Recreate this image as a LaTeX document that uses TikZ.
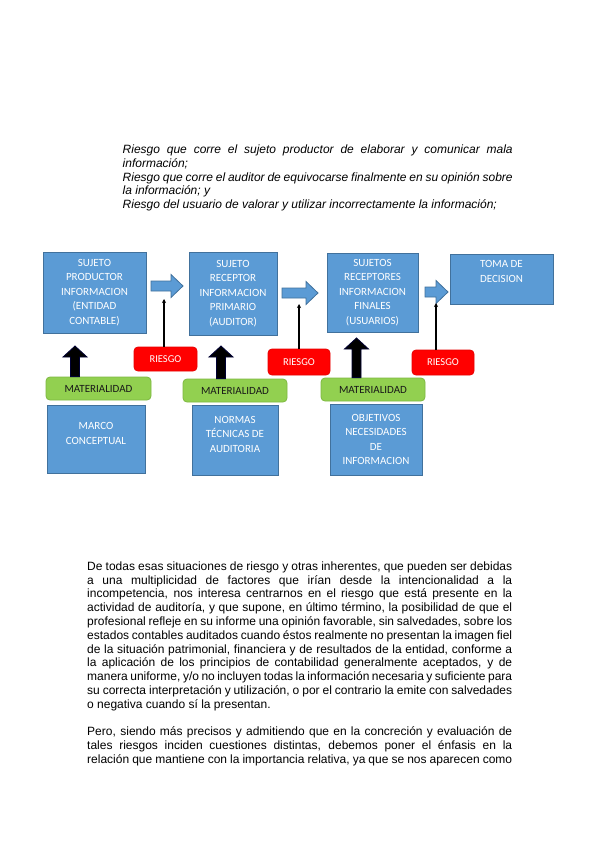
\documentclass[tikz,border=0pt]{standalone}
\usepackage{fontspec}
\setmainfont{Liberation Sans}
\newfontfamily\boxfont{Carlito}
\usepackage{xcolor}
\usepackage{tikz}
\usetikzlibrary{calc,arrows.meta}

\definecolor{boxblue}{HTML}{5B9BD5}
\definecolor{boxedge}{HTML}{41719C}
\definecolor{matgreen}{HTML}{92D050}
\definecolor{matedge}{HTML}{7DB840}
\definecolor{riskred}{HTML}{FF0000}
\definecolor{riskedge}{HTML}{E80000}
\setlength{\parindent}{0pt}

\newcommand{\rightblock}[2]{% blue arrow from #1 to #2
  \filldraw[blockright] ($(#1)+(0,-5)$) -- ($(#2)+(-12,-5)$) -- ($(#2)+(-12,-11.5)$) -- (#2)
    -- ($(#2)+(-12,11.5)$) -- ($(#2)+(-12,5)$) -- ($(#1)+(0,5)$) -- cycle;}
\newcommand{\upblock}[2]{% black arrow from #1 up to #2
  \filldraw[blockup] ($(#1)+(-4.5,0)$) -- ($(#2)+(-4.5,11)$) -- ($(#2)+(-12,11)$) -- (#2)
    -- ($(#2)+(12,11)$) -- ($(#2)+(4.5,11)$) -- ($(#1)+(4.5,0)$) -- cycle;}

\begin{document}
\begin{tikzpicture}[x=1pt,y=-1pt,
    bluebox/.style={draw=boxedge,fill=boxblue,line width=0.8pt,text=white,align=center,
      inner sep=0pt,font=\boxfont\fontsize{11}{14.5}\selectfont},
    matbox/.style={draw=matedge,fill=matgreen,rounded corners=4pt,line width=0.8pt,
      minimum width=104pt,minimum height=23pt,inner sep=0pt,text=black!90,
      font=\boxfont\fontsize{11}{13}\selectfont},
    riskbox/.style={draw=riskedge,fill=riskred,rounded corners=4pt,line width=0.8pt,
      minimum width=62pt,minimum height=25pt,inner sep=0pt,text=white,
      font=\boxfont\fontsize{10.5}{13}\selectfont},
    blockright/.style={draw=boxedge,fill=boxblue,line width=0.8pt},
    blockup/.style={draw=black!80!blue,fill=black,line width=0.8pt},
    riskline/.style={-{Stealth[length=4pt,width=4pt]},line width=1.3pt},
    bodytext/.style={anchor=north west,inner sep=0pt,align=justify}]
    \path[use as bounding box,fill=white] (0,0) rectangle (599,848);

    % text above the diagram
    \node[bodytext,text width=390pt,font=\itshape\fontsize{12}{13.9}\selectfont] (risks) at (122.5,144.4)
      {Riesgo que corre el sujeto productor de elaborar y comunicar mala\linebreak información;\par
       Riesgo que corre el auditor de equivocarse finalmente en su opinión sobre\linebreak la información; y\par
       Riesgo del usuario de valorar y utilizar incorrectamente la información;};

    % main chain
    \node[bluebox,minimum width=103pt,minimum height=81pt] (prod) at (94.5,292.5)
      {SUJETO\\PRODUCTOR\\INFORMACION\\(ENTIDAD\\CONTABLE)};
    \node[bluebox,minimum width=88pt,minimum height=83pt] (recep) at (233,293.5)
      {SUJETO\\RECEPTOR\\INFORMACION\\PRIMARIO\\(AUDITOR)};
    \node[bluebox,minimum width=91pt,minimum height=79pt] (final) at (372.5,292.5)
      {SUJETOS\\RECEPTORES\\INFORMACION\\FINALES\\(USUARIOS)};
    \node[bluebox,minimum width=103pt,minimum height=50pt,
      label={[anchor=north,align=center,text=white,font=\boxfont\fontsize{11}{14.5}\selectfont,
      inner sep=0pt,yshift=-7pt]north:TOMA DE\\DECISION}] (toma) at (501.5,279) {};

    % flow arrows
    \coordinate (a1s) at (151,286); \coordinate (a1e) at (183,286);
    \coordinate (a2s) at (282,293); \coordinate (a2e) at (318,293);
    \coordinate (a3s) at (425,292); \coordinate (a3e) at (448,292);
    \rightblock{a1s}{a1e}
    \rightblock{a2s}{a2e}
    \rightblock{a3s}{a3e}

    % risks
    \node[riskbox,minimum width=63pt,minimum height=24pt] (r1) at (165.5,359) {RIESGO};
    \node[riskbox,minimum height=26pt] (r2) at (299,362) {RIESGO};
    \node[riskbox] (r3) at (443,362.5) {RIESGO};
    \coordinate (k1) at (164,299);
    \coordinate (k2) at (299,304);
    \coordinate (k3) at (436,303);
    \draw[riskline] (r1.north -| k1) -- (k1);
    \draw[riskline] (r2.north -| k2) -- (k2);
    \draw[riskline] (r3.north -| k3) -- (k3);

    % materiality
    \node[matbox,minimum width=105pt] (mat1) at (98.5,388.5) {MATERIALIDAD};
    \node[matbox] (mat2) at (235,390.5) {MATERIALIDAD};
    \node[matbox] (mat3) at (373,389.5) {MATERIALIDAD};
    \coordinate (tA) at (75,346);
    \coordinate (tB) at (221,346);
    \coordinate (tC) at (356.5,338);
    \coordinate (bA) at (mat1.north -| tA);
    \coordinate (bB) at (mat2.north -| tB);
    \coordinate (bC) at (mat3.north -| tC);
    \upblock{bA}{tA}
    \upblock{bB}{tB}
    \upblock{bC}{tC}

    % frameworks
    \node[bluebox,minimum width=98pt,minimum height=68pt] (marco) at (96,439)
      {MARCO\\CONCEPTUAL\\[-3pt]};
    \node[bluebox,minimum width=86pt,minimum height=70pt] (normas) at (235,440)
      {NORMAS\\TÉCNICAS DE\\AUDITORIA\\[-3pt]};
    \node[bluebox,minimum width=92pt,minimum height=71pt] (objet) at (376,439.5)
      {OBJETIVOS\\NECESIDADES\\DE\\INFORMACION};

    % text below the diagram
    \node[bodytext,text width=425pt,font=\fontsize{12}{13.8}\selectfont] (body) at (87,561.4)
      {\hyphenpenalty=10000
       De todas esas situaciones de riesgo y otras inherentes, que pueden ser debidas\linebreak
       a una multiplicidad de factores que irían desde la intencionalidad a la\linebreak
       incompetencia, nos interesa centrarnos en el riesgo que está presente en la\linebreak
       actividad de auditoría, y que supone, en último término, la posibilidad de que el\linebreak
       profesional refleje en su informe una opinión favorable, sin salvedades, sobre los\linebreak
       estados contables auditados cuando éstos realmente no presentan la imagen fiel\linebreak
       de la situación patrimonial, financiera y de resultados de la entidad, conforme a\linebreak
       la aplicación de los principios de contabilidad generalmente aceptados, y de\linebreak
       manera uniforme, y/o no incluyen todas la información necesaria y suficiente para\linebreak
       su correcta interpretación y utilización, o por el contrario la emite con salvedades\linebreak
       o negativa cuando sí la presentan.\par\vskip13.8pt
       Pero, siendo más precisos y admitiendo que en la concreción y evaluación de\linebreak
       tales riesgos inciden cuestiones distintas, debemos poner el énfasis en la\linebreak
       relación que mantiene con la importancia relativa, ya que se nos aparecen como{\parfillskip=0pt\par}};
\end{tikzpicture}
\end{document}
